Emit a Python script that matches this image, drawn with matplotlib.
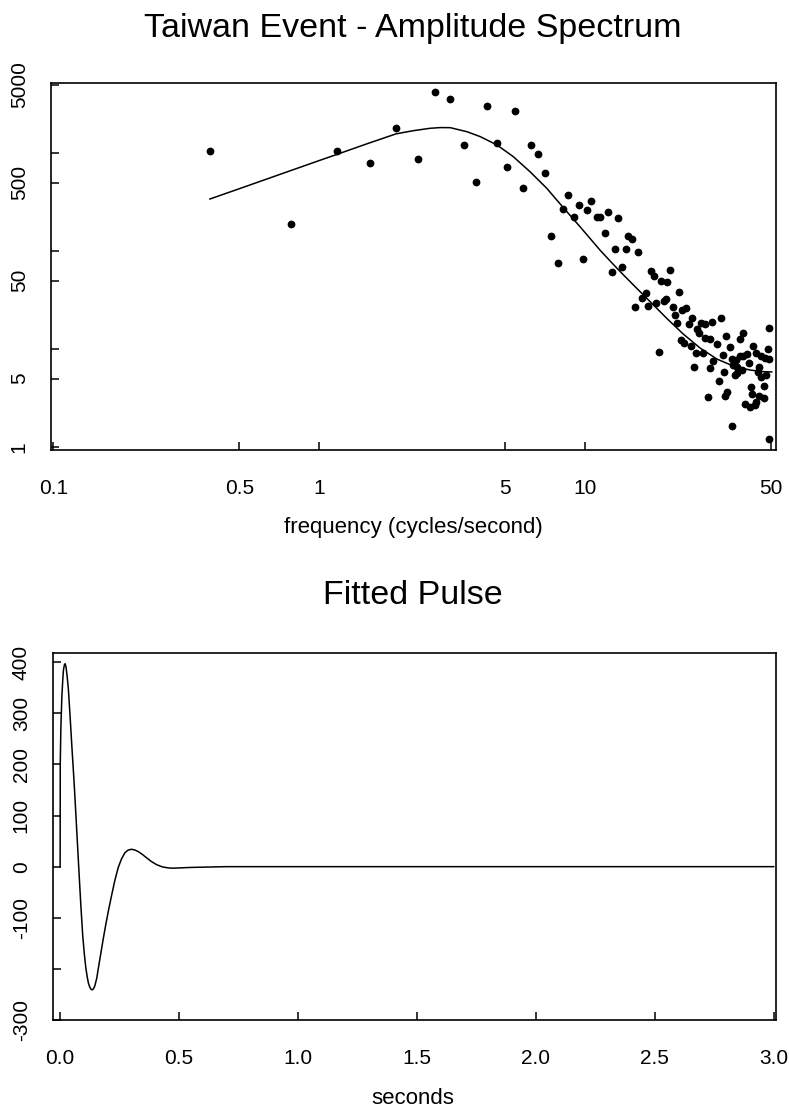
import numpy as np
import matplotlib
matplotlib.use("Agg")
import matplotlib.pyplot as plt

plt.rcParams['font.family'] = ['Liberation Sans', 'DejaVu Sans']

# pontos do espectro de amplitude (frequencia, amplitude)
freq_pts = [0.388, 0.780, 1.169, 1.555, 1.946, 2.343, 2.73, 3.11, 3.51, 3.89,
            4.28, 4.66, 5.09, 5.45, 5.86, 6.27, 6.66, 7.06, 7.45, 7.89,
            8.27, 8.65, 9.04, 9.44, 9.83, 10.2, 10.56, 11.07, 11.38, 11.85,
            12.2, 12.6, 13.0, 13.3, 13.8, 14.2, 14.55, 15.0, 15.4, 15.8,
            16.3, 16.9, 17.3, 17.7, 18.2, 18.5, 18.9, 19.3, 19.8, 20.1,
            20.4, 20.9, 21.4, 21.7, 22.1, 22.6, 23.0, 23.2, 23.6, 24.0,
            24.5, 25.0, 25.3, 25.7, 26.1, 26.4, 26.8, 27.3, 27.7, 28.3,
            28.3, 28.9, 29.4, 29.5, 30.1, 30.2, 31.3, 32.0, 32.4, 32.9,
            33.4, 33.6, 34.0, 34.1, 34.9, 35.6, 35.6, 36.1, 36.6, 36.9,
            37.2, 37.4, 38.2, 38.3, 38.8, 39.2, 39.2, 40.0, 40.6, 41.4,
            41.5, 42.0, 42.3, 42.8, 43.6, 43.8, 44.0, 44.5, 45.1, 45.1,
            45.8, 46.0, 47.1, 47.1, 47.5, 47.9, 48.5, 49.2, 49.2, 49.2]
amp_pts = [1055, 191, 1055, 796, 1811, 875, 4200, 3563, 1224, 513,
           3063, 1274, 730, 2685, 442, 1224, 977, 629, 143, 76.4,
           272, 372, 225, 297, 83.2, 262, 324, 223, 225, 154,
           251, 60.9, 104, 217, 69.5, 104, 144, 133, 26.9, 97.5,
           33.5, 37.2, 27.6, 62.8, 55.8, 29.8, 9.34, 49.6, 31.0, 32.3,
           48.4, 64.3, 26.9, 22.2, 18.6, 38.6, 12.4, 24.9, 11.5, 26.5,
           17.9, 10.8, 20.9, 6.52, 9.19, 15.9, 14.7, 18.6, 9.19, 18.0,
           13.1, 3.26, 12.8, 6.37, 19.0, 7.56, 11.2, 4.75, 20.9, 8.77,
           5.88, 3.34, 13.7, 3.67, 10.4, 7.87, 1.64, 6.88, 5.44, 7.74,
           6.6, 5.74, 12.6, 8.5, 6.12, 14.5, 8.5, 2.75, 8.9, 7.26,
           2.55, 4.13, 3.45, 10.8, 2.69, 9.19, 2.9, 5.8, 6.6, 3.34,
           5.23, 8.5, 4.23, 3.19, 8.05, 5.44, 10.1, 7.87, 16.3, 1.2]

# curva ajustada
fit_freq = [0.388, 0.5, 0.75, 1.0, 1.169, 1.5, 1.946, 2.26, 2.61, 2.85,
            3.11, 3.59, 4.03, 4.66, 5.37, 6.2, 7.17, 8.28, 9.56, 11.39,
            13.16, 15.2, 17.55, 20.3, 23.4, 27.1, 31.3, 36.1, 41.7, 46.8, 50.3]
fit_amp = [341, 434, 640, 843, 977, 1241, 1580, 1702, 1800, 1830,
           1827, 1662, 1480, 1216, 922, 649, 439, 278, 178, 102,
           67, 45, 30.5, 20.5, 14.2, 10.2, 7.9, 6.7, 6.1, 5.88, 5.83]

# pulso ajustado (tempo em segundos, amplitude)
t_pulse = [0.0, 0.0005, 0.003, 0.007, 0.011, 0.014, 0.018, 0.021, 0.025, 0.030,
           0.035, 0.042, 0.050, 0.059, 0.067, 0.074, 0.081, 0.087, 0.095, 0.102,
           0.108, 0.114, 0.119, 0.125, 0.130, 0.135, 0.140, 0.146, 0.154, 0.162,
           0.171, 0.181, 0.192, 0.204, 0.216, 0.230, 0.244, 0.258, 0.272, 0.286,
           0.300, 0.315, 0.330, 0.347, 0.363, 0.384, 0.405, 0.43, 0.455, 0.475,
           0.50, 0.55, 0.6, 0.7, 0.8, 1.0, 1.5, 2.0, 2.5, 3.0]
y_pulse = [0, 200, 270, 330, 365, 385, 395, 397, 390, 370,
           345, 293, 230, 163, 95, 35, -25, -75, -135, -172,
           -198, -216, -228, -236, -240, -241, -239, -233, -218, -195,
           -170, -142, -113, -84, -57, -27, -2, 15, 27, 32.5,
           34, 32.5, 29, 23.5, 17.5, 10, 4, -0.5, -2.5, -3,
           -2.5, -1.5, -1, 0, 0, 0, 0, 0, 0, 0]

fig = plt.figure(figsize=(7.89, 11.11), dpi=100)

# 1. grafico do espectro (log-log)
ax1 = fig.add_axes([51/789, 1 - 450/1111, 725/789, 367/1111])
ax1.plot(fit_freq, fit_amp, color='black', lw=1.1)
ax1.scatter(freq_pts, amp_pts, s=21, color='black', zorder=3)
ax1.set_xscale('log')
ax1.set_yscale('log')
ax1.set_xlim(0.098, 52.2)
ax1.set_ylim(0.93, 5224)
ax1.set_xticks([0.1, 0.5, 1, 5, 10, 50])
ax1.set_xticklabels(['0.1', '0.5', '1', '5', '10', '50'])
ax1.set_yticks([1, 5, 10, 50, 100, 500, 1000, 5000])
ax1.set_yticklabels(['1', '5', '', '50', '', '500', '', '5000'], rotation=90, va='center')
ax1.minorticks_off()

# 2. grafico do pulso
ax2 = fig.add_axes([53/789, 1 - 1020/1111, 723/789, 367/1111])
ax2.plot(t_pulse, y_pulse, color='black', lw=1.1)
ax2.set_xlim(-0.03, 3.01)
ax2.set_ylim(-300, 418)
ax2.set_xticks([0.0, 0.5, 1.0, 1.5, 2.0, 2.5, 3.0])
ax2.set_xticklabels(['0.0', '0.5', '1.0', '1.5', '2.0', '2.5', '3.0'])
ax2.set_yticks([-300, -200, -100, 0, 100, 200, 300, 400])
ax2.set_yticklabels(['-300', '', '-100', '0', '100', '200', '300', '400'],
                    rotation=90, va='center')

for ax in (ax1, ax2):
    for s in ax.spines.values():
        s.set_linewidth(1.2)
    ax.tick_params(direction='in', length=6, width=1.1, labelsize=15,
                   top=False, right=False)
    ax.tick_params(axis='x', pad=21)
    ax.tick_params(axis='y', pad=16)

# 3. titulos e rotulos
fig.text(413/789, 1 - 29/1111, 'Taiwan Event - Amplitude Spectrum',
         ha='center', va='center', fontsize=24.5)
fig.text(413/789, 1 - 528/1111, 'frequency (cycles/second)',
         ha='center', va='center', fontsize=16)
fig.text(413/789, 1 - 596/1111, 'Fitted Pulse',
         ha='center', va='center', fontsize=24.5)
fig.text(413/789, 1 - 1098/1111, 'seconds',
         ha='center', va='center', fontsize=16)

fig.savefig('out.png', dpi=100)
